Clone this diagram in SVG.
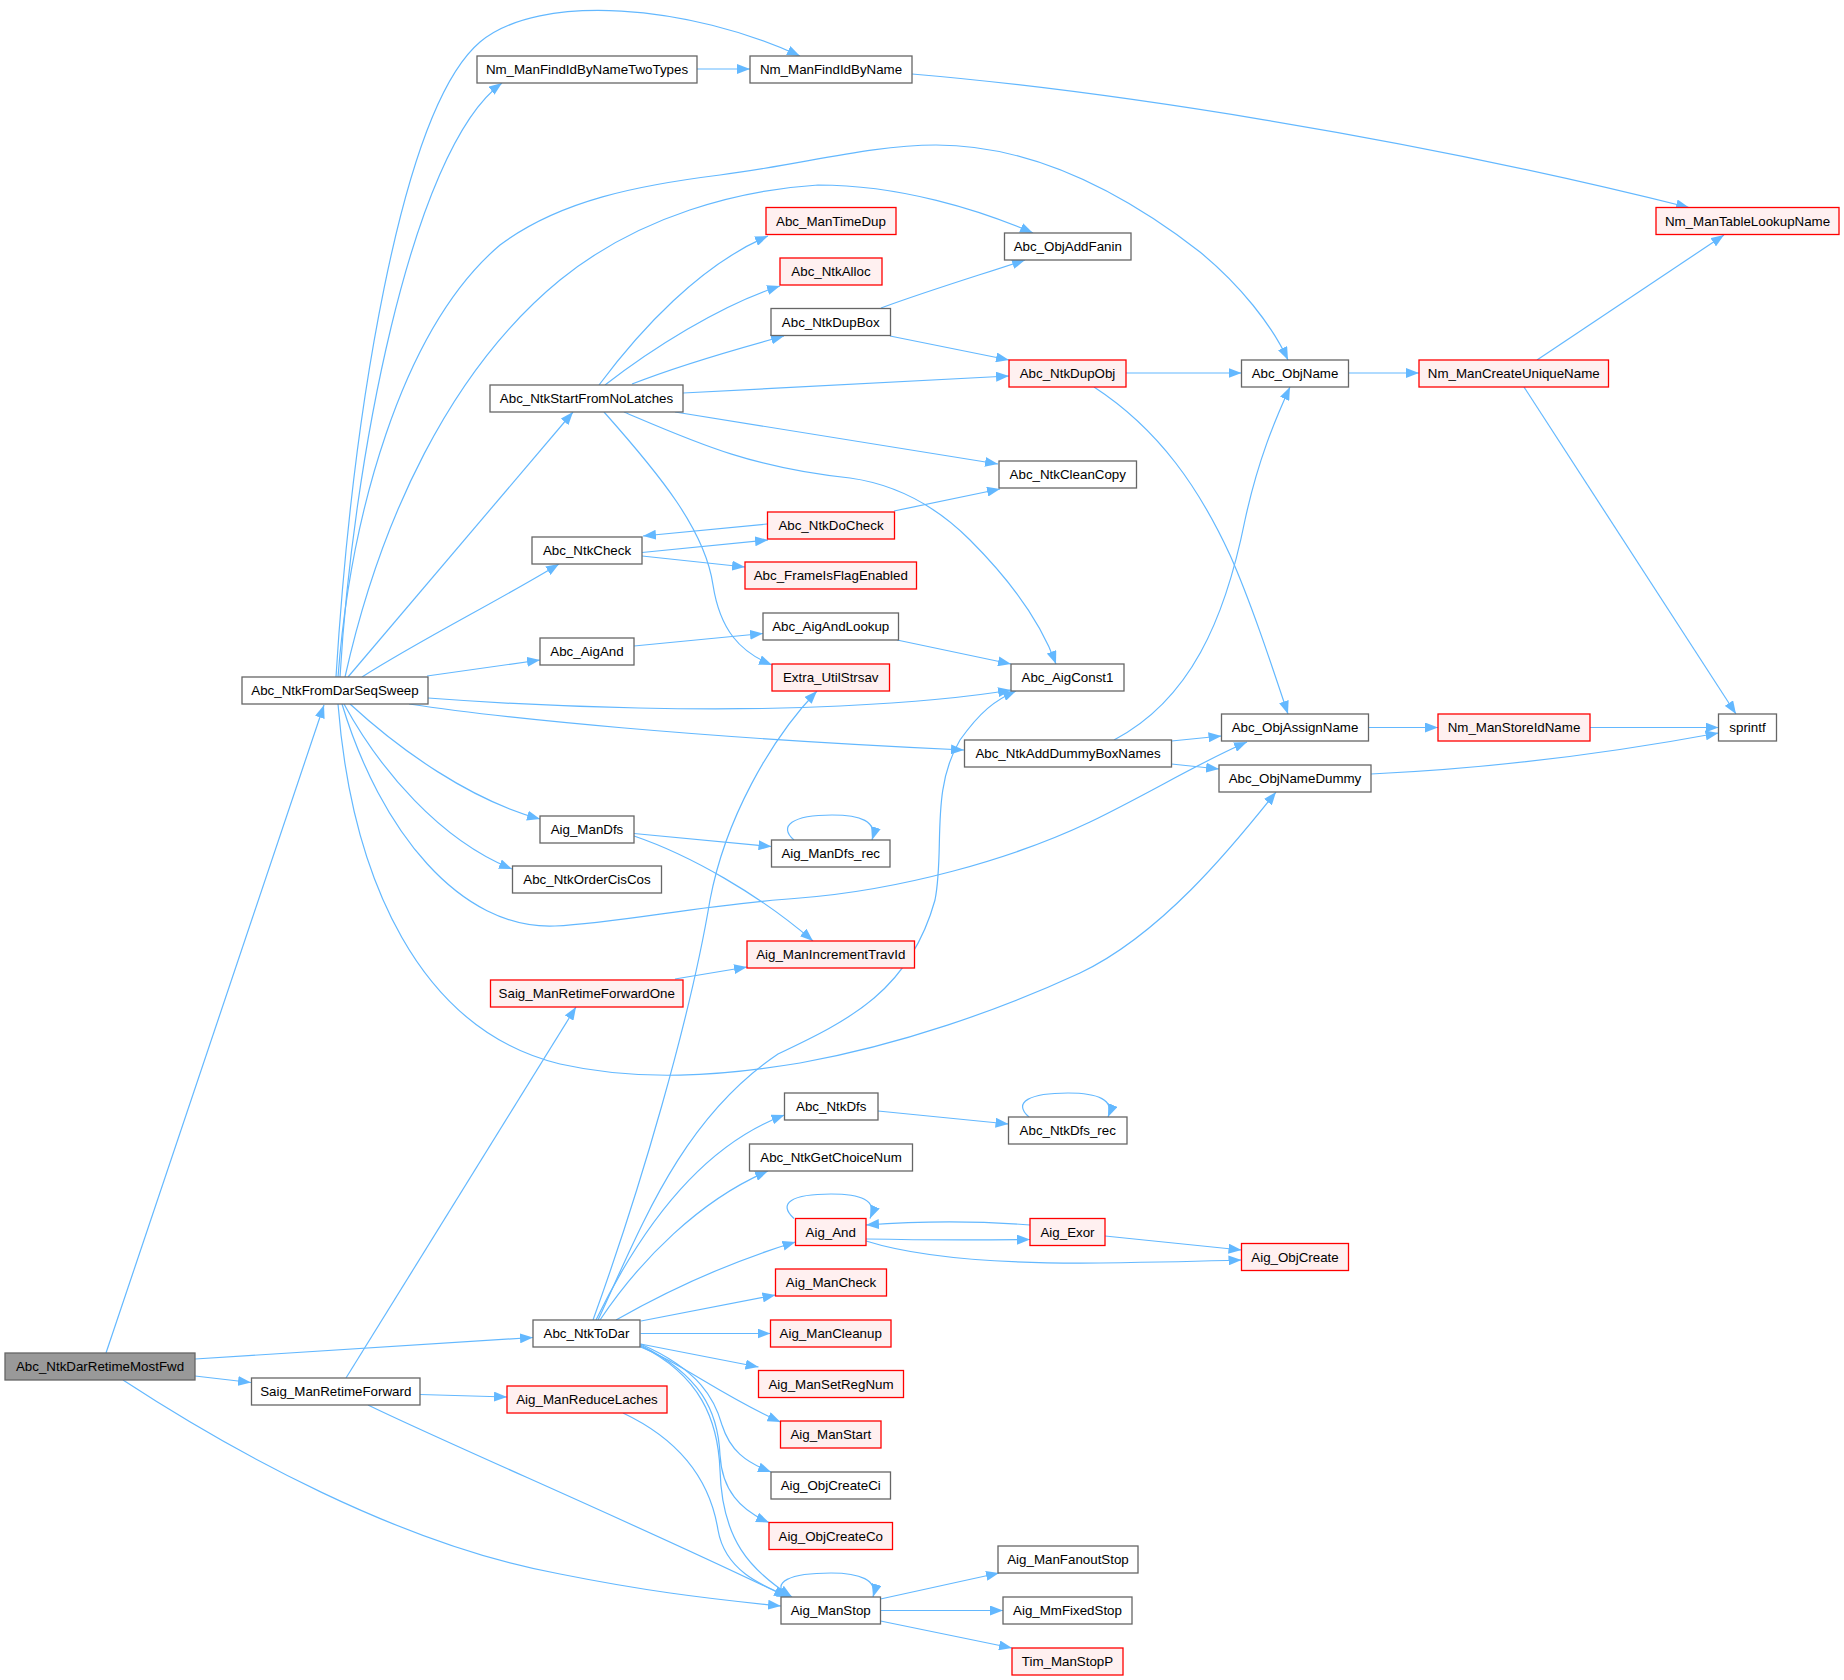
<svg xmlns="http://www.w3.org/2000/svg" width="1844" height="1680" viewBox="0 0 1844 1680">
<style>
.n rect{fill:#ffffff;stroke:#666666;stroke-width:1.3}
.r rect{fill:#fff0f0;stroke:#ff0000;stroke-width:1.3}
.m rect{fill:#999999;stroke:#666666;stroke-width:1.3}
text{font-family:"Liberation Sans",Arial,Helvetica,sans-serif;font-size:13.33px;fill:#000000;text-anchor:middle}
#edges path{fill:none;stroke:#63b8ff;stroke-width:1.2;marker-end:url(#ah)}
</style>
<defs>
<marker id="ah" viewBox="0 0 13 10" refX="13" refY="5" markerWidth="13" markerHeight="10" markerUnits="userSpaceOnUse" orient="auto">
<path d="M0,0 L13,5 L0,10 z" fill="#63b8ff"/>
</marker>
</defs>
<rect x="0" y="0" width="1844" height="1680" fill="#ffffff"/>
<g id="edges">
<path d="M106,1353 L324,705"/>
<path d="M195,1359 L533,1337.5"/>
<path d="M195,1376 L251,1382.5"/>
<path d="M123,1380 C230,1450 400,1545 560,1574 C640,1590 700,1598 781,1606"/>
<path d="M340,677 C352,470 410,150 502,83"/>
<path d="M336,677 C352,420 400,110 480,42 C540,-8 690,5 800,56"/>
<path d="M338,677 C350,520 400,330 500,245 C560,200 640,185 720,175 C800,165 870,145 936,145 C1030,145 1120,190 1200,252 C1240,285 1272,325 1288,360"/>
<path d="M345,677 C380,520 450,370 560,280 C640,215 740,190 818,185 C900,185 980,210 1033,233"/>
<path d="M348,677 L573,412"/>
<path d="M362,677 C420,640 500,600 559,564"/>
<path d="M427,676 L540,660"/>
<path d="M428,698 C560,708 720,712 840,706 C920,702 970,697 1011,690"/>
<path d="M409,704 C500,718 700,738 964,750"/>
<path d="M350,704 C400,750 470,800 540,819"/>
<path d="M344,704 C380,770 440,840 512,869"/>
<path d="M342,704 C380,830 460,930 555,926 C620,923 700,905 800,898 C900,890 1010,860 1090,822 C1150,793 1200,762 1247,742"/>
<path d="M338,704 C352,880 420,1030 560,1064 C640,1082 720,1076 800,1063 C900,1045 1000,1010 1080,973 C1160,935 1230,850 1276,792"/>
<path d="M697,69 L750,69"/>
<path d="M912,74 C1100,90 1400,135 1689,207.5"/>
<path d="M599,385 C640,330 700,265 768,236"/>
<path d="M605,385 C650,350 720,305 780,286"/>
<path d="M632,384 C680,365 740,348 784,336"/>
<path d="M683,393 L1009,376"/>
<path d="M675,412 L998,464"/>
<path d="M624,412 C690,440 750,468 850,478 C900,485 940,510 970,540 C1010,580 1040,620 1056,664"/>
<path d="M604,412 C660,475 705,530 713,585 C720,630 740,652 772,665"/>
<path d="M881,308 C930,290 980,275 1025,260"/>
<path d="M890,336 L1009,360"/>
<path d="M1126,373 L1241.5,373"/>
<path d="M1094,387 C1160,430 1200,490 1230,555 C1250,600 1270,660 1288,714"/>
<path d="M1348.5,373 L1419,373"/>
<path d="M1537,360 L1724,235"/>
<path d="M1524,387 L1736,714"/>
<path d="M642,552.5 L768,540"/>
<path d="M767,524 L643,536"/>
<path d="M642,556 L745,567"/>
<path d="M894,511 L1000,489"/>
<path d="M634,646 L763,633.5"/>
<path d="M897,640 L1011,664"/>
<path d="M1114,740 C1190,700 1225,620 1245,520 C1258,460 1275,420 1290,387"/>
<path d="M1171.5,741 L1221.5,736"/>
<path d="M1171.5,764 L1219,769"/>
<path d="M1368.5,727.5 L1438,727.5"/>
<path d="M1590,727.5 L1718.5,727.5"/>
<path d="M1371,774 C1480,769 1600,755 1718.5,733"/>
<path d="M634,833.5 L771.5,846.5"/>
<path d="M634,836 C690,855 760,895 813,941"/>
<path d="M794,840 C778,826 792,815 832,815 C860,815 878,821 872,840"/>
<path d="M675,979 L747,967"/>
<path d="M346,1378 L576,1007"/>
<path d="M420,1394.5 L507,1397"/>
<path d="M368,1405 C450,1445 650,1530 787,1597"/>
<path d="M623,1413 C680,1440 710,1480 718,1530 C725,1570 760,1585 790,1597"/>
<path d="M593,1320 C640,1190 690,1020 710,900 C725,820 770,740 817,691"/>
<path d="M598,1320 C640,1230 680,1120 778,1054 C850,1020 910,990 935,900 C945,850 930,790 960,740 C980,712 995,700 1016,691"/>
<path d="M596,1320 C630,1250 690,1150 784.5,1115"/>
<path d="M600,1320 C640,1260 700,1200 768,1171"/>
<path d="M616,1320 C660,1295 720,1265 795.5,1242"/>
<path d="M641,1321 L775.5,1295"/>
<path d="M640.5,1333.5 L770.5,1333.5"/>
<path d="M640.5,1344 L758.5,1367"/>
<path d="M638,1346 C680,1362 720,1395 780.5,1422"/>
<path d="M640.5,1344 C700,1370 715,1400 722,1425 C730,1450 745,1462 771,1472"/>
<path d="M640.5,1345 C700,1375 718,1410 720,1455 C722,1490 740,1510 769,1522.5"/>
<path d="M640.5,1346 C700,1375 718,1420 720,1470 C722,1540 750,1570 792,1597"/>
<path d="M787,1597 C770,1582 790,1573 831,1573 C860,1573 878,1580 873,1597"/>
<path d="M880.5,1599 L999,1573"/>
<path d="M880.5,1610.5 L1003,1610.5"/>
<path d="M880.5,1621 L1012,1648"/>
<path d="M878,1111 L1008.5,1124"/>
<path d="M1029,1117 C1012,1102 1030,1093 1068,1093 C1098,1093 1115,1100 1108,1117"/>
<path d="M794,1218.5 C777,1203 792,1194 831,1194 C860,1194 878,1200 870,1218.5"/>
<path d="M866,1239 C920,1240 980,1240 1030,1239.5"/>
<path d="M1030,1225 C980,1221 920,1221 866,1225"/>
<path d="M866,1241 C920,1258 1000,1264 1100,1263 C1170,1262 1210,1261 1241.5,1260"/>
<path d="M1105,1236 L1241.5,1250"/>
</g>
<g id="n1" class="m"><rect x="5" y="1353" width="190" height="27"/><text x="100" y="1371.2">Abc_NtkDarRetimeMostFwd</text></g>
<g id="n2" class="n"><rect x="242" y="677" width="186" height="27"/><text x="335" y="695.2">Abc_NtkFromDarSeqSweep</text></g>
<g id="n3" class="n"><rect x="533" y="1320" width="107" height="27"/><text x="586.5" y="1338.2">Abc_NtkToDar</text></g>
<g id="n4" class="n"><rect x="251.5" y="1378" width="168.5" height="27"/><text x="335.75" y="1396.2">Saig_ManRetimeForward</text></g>
<g id="n5" class="n"><rect x="477" y="56" width="220" height="27"/><text x="587" y="74.2">Nm_ManFindIdByNameTwoTypes</text></g>
<g id="n6" class="n"><rect x="750" y="56" width="162" height="27"/><text x="831" y="74.2">Nm_ManFindIdByName</text></g>
<g id="n7" class="n"><rect x="1241.5" y="360" width="107" height="27"/><text x="1295" y="378.2">Abc_ObjName</text></g>
<g id="n8" class="n"><rect x="1004.5" y="233" width="126.5" height="27"/><text x="1067.75" y="251.2">Abc_ObjAddFanin</text></g>
<g id="n9" class="n"><rect x="490" y="385" width="193" height="27"/><text x="586.5" y="403.2">Abc_NtkStartFromNoLatches</text></g>
<g id="n10" class="n"><rect x="532" y="537" width="110" height="27"/><text x="587" y="555.2">Abc_NtkCheck</text></g>
<g id="n11" class="n"><rect x="540" y="638" width="94" height="27"/><text x="587" y="656.2">Abc_AigAnd</text></g>
<g id="n12" class="n"><rect x="1011" y="664" width="113" height="27"/><text x="1067.5" y="682.2">Abc_AigConst1</text></g>
<g id="n13" class="n"><rect x="964.5" y="740" width="207" height="27"/><text x="1068" y="758.2">Abc_NtkAddDummyBoxNames</text></g>
<g id="n14" class="n"><rect x="540" y="816" width="94" height="27"/><text x="587" y="834.2">Aig_ManDfs</text></g>
<g id="n15" class="n"><rect x="512.5" y="866" width="149" height="27"/><text x="587" y="884.2">Abc_NtkOrderCisCos</text></g>
<g id="n16" class="n"><rect x="1221.5" y="714" width="147" height="27"/><text x="1295" y="732.2">Abc_ObjAssignName</text></g>
<g id="n17" class="n"><rect x="1219" y="765" width="152" height="27"/><text x="1295" y="783.2">Abc_ObjNameDummy</text></g>
<g id="n18" class="r"><rect x="1656" y="207.5" width="183" height="27"/><text x="1747.5" y="225.7">Nm_ManTableLookupName</text></g>
<g id="n19" class="r"><rect x="766" y="207.5" width="130" height="27"/><text x="831" y="225.7">Abc_ManTimeDup</text></g>
<g id="n20" class="r"><rect x="780" y="258" width="102" height="27"/><text x="831" y="276.2">Abc_NtkAlloc</text></g>
<g id="n21" class="n"><rect x="771" y="308.5" width="119.5" height="27"/><text x="830.75" y="326.7">Abc_NtkDupBox</text></g>
<g id="n22" class="r"><rect x="1009" y="360" width="117" height="27"/><text x="1067.5" y="378.2">Abc_NtkDupObj</text></g>
<g id="n23" class="n"><rect x="999" y="461" width="137.5" height="27"/><text x="1067.75" y="479.2">Abc_NtkCleanCopy</text></g>
<g id="n24" class="r"><rect x="772" y="664" width="117.5" height="27"/><text x="830.75" y="682.2">Extra_UtilStrsav</text></g>
<g id="n25" class="r"><rect x="1419" y="360" width="189.5" height="27"/><text x="1513.75" y="378.2">Nm_ManCreateUniqueName</text></g>
<g id="n26" class="n"><rect x="1718.5" y="714" width="58" height="27"/><text x="1747.5" y="732.2">sprintf</text></g>
<g id="n27" class="r"><rect x="767.5" y="512" width="127" height="27"/><text x="831" y="530.2">Abc_NtkDoCheck</text></g>
<g id="n28" class="r"><rect x="745" y="562" width="171.5" height="27"/><text x="830.75" y="580.2">Abc_FrameIsFlagEnabled</text></g>
<g id="n29" class="n"><rect x="763" y="613" width="135.5" height="27"/><text x="830.75" y="631.2">Abc_AigAndLookup</text></g>
<g id="n30" class="n"><rect x="771.5" y="840" width="118.5" height="27"/><text x="830.75" y="858.2">Aig_ManDfs_rec</text></g>
<g id="n31" class="r"><rect x="747" y="941" width="167.5" height="27"/><text x="830.75" y="959.2">Aig_ManIncrementTravId</text></g>
<g id="n32" class="r"><rect x="1438" y="714" width="152" height="27"/><text x="1514" y="732.2">Nm_ManStoreIdName</text></g>
<g id="n33" class="r"><rect x="490.5" y="980" width="192.5" height="27"/><text x="586.75" y="998.2">Saig_ManRetimeForwardOne</text></g>
<g id="n34" class="r"><rect x="507" y="1386" width="160" height="27"/><text x="587" y="1404.2">Aig_ManReduceLaches</text></g>
<g id="n35" class="n"><rect x="781" y="1597" width="99.5" height="27"/><text x="830.75" y="1615.2">Aig_ManStop</text></g>
<g id="n36" class="n"><rect x="784.5" y="1093" width="93.5" height="27"/><text x="831.25" y="1111.2">Abc_NtkDfs</text></g>
<g id="n37" class="n"><rect x="749.5" y="1144" width="163" height="27"/><text x="831" y="1162.2">Abc_NtkGetChoiceNum</text></g>
<g id="n38" class="r"><rect x="795.5" y="1218.5" width="70.5" height="27"/><text x="830.75" y="1236.7">Aig_And</text></g>
<g id="n39" class="r"><rect x="775.5" y="1269" width="111" height="27"/><text x="831" y="1287.2">Aig_ManCheck</text></g>
<g id="n40" class="r"><rect x="770.5" y="1320" width="120.5" height="27"/><text x="830.75" y="1338.2">Aig_ManCleanup</text></g>
<g id="n41" class="r"><rect x="758.5" y="1370.5" width="145" height="27"/><text x="831" y="1388.7">Aig_ManSetRegNum</text></g>
<g id="n42" class="r"><rect x="780.5" y="1421" width="100.5" height="27"/><text x="830.75" y="1439.2">Aig_ManStart</text></g>
<g id="n43" class="n"><rect x="771" y="1472" width="119.5" height="27"/><text x="830.75" y="1490.2">Aig_ObjCreateCi</text></g>
<g id="n44" class="r"><rect x="769" y="1522.5" width="123.5" height="27"/><text x="830.75" y="1540.7">Aig_ObjCreateCo</text></g>
<g id="n45" class="n"><rect x="1008.5" y="1117" width="118.5" height="27"/><text x="1067.75" y="1135.2">Abc_NtkDfs_rec</text></g>
<g id="n46" class="r"><rect x="1030" y="1218.5" width="75" height="27"/><text x="1067.5" y="1236.7">Aig_Exor</text></g>
<g id="n47" class="r"><rect x="1241.5" y="1243.5" width="107" height="27"/><text x="1295" y="1261.7">Aig_ObjCreate</text></g>
<g id="n48" class="n"><rect x="998" y="1546" width="140" height="27"/><text x="1068" y="1564.2">Aig_ManFanoutStop</text></g>
<g id="n49" class="n"><rect x="1003" y="1597" width="129" height="27"/><text x="1067.5" y="1615.2">Aig_MmFixedStop</text></g>
<g id="n50" class="r"><rect x="1012" y="1648" width="111" height="27"/><text x="1067.5" y="1666.2">Tim_ManStopP</text></g>
</svg>
